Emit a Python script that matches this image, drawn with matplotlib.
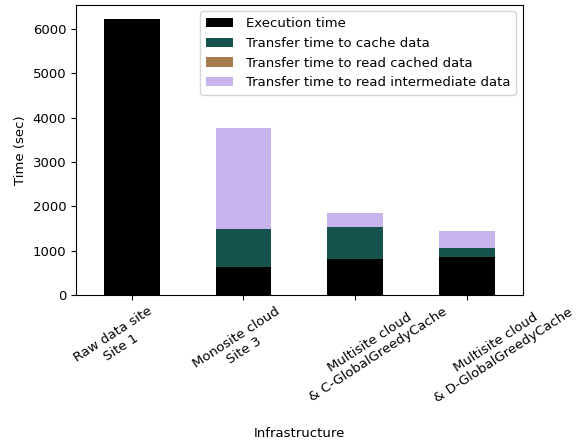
import numpy as np
import matplotlib
matplotlib.use('Agg')
import matplotlib.pyplot as plt
from matplotlib.transforms import ScaledTranslation

plt.rcParams['font.size'] = 9.5

categories = ['Raw data site\nSite 1', 'Monosite cloud\nSite 3',
              'Multisite cloud\n& C-GlobalGreedyCache',
              'Multisite cloud\n& D-GlobalGreedyCache']
execution = [6233, 640, 814, 860]
cache_data = [0, 853, 724, 203]
read_cached = [0, 0, 0, 0]
read_intermediate = [0, 2263, 317, 385]

series = [('Execution time', execution, '#000000'),
          ('Transfer time to cache data', cache_data, '#17534e'),
          ('Transfer time to read cached data', read_cached, '#a67c4c'),
          ('Transfer time to read intermediate data', read_intermediate, '#c8b4ec')]

fig = plt.figure(figsize=(5.88, 4.41), dpi=100)
ax = fig.add_axes([0.129, 0.331, 0.76, 0.658])

x = np.arange(len(categories))
bottom = np.zeros(len(categories))
for label, vals, color in series:
    ax.bar(x, vals, 0.5, bottom=bottom, color=color, label=label)
    bottom = bottom + np.array(vals)

ax.set_xlim(-0.5, len(categories) - 0.5)
ax.set_ylim(0, bottom.max() * 1.05)
ax.set_xticks(x)
ax.set_xticklabels(categories, rotation=33, ha='center')

# nudge labels (pixels at 100 dpi) to sit like the original
shifts = [(-15, 0), (-3, 0), (19, 12), (33, 12)]
for lab, (dx, dy) in zip(ax.get_xticklabels(), shifts):
    lab.set_transform(lab.get_transform() +
                      ScaledTranslation(dx / 100.0, dy / 100.0, fig.dpi_scale_trans))

ax.set_ylabel('Time (sec)')
ax.set_xlabel('Infrastructure')
ax.xaxis.set_label_coords(0.5, -0.455)
ax.legend(loc='upper right', handletextpad=1.0, borderpad=0.45)

fig.savefig('out.png', dpi=100)
